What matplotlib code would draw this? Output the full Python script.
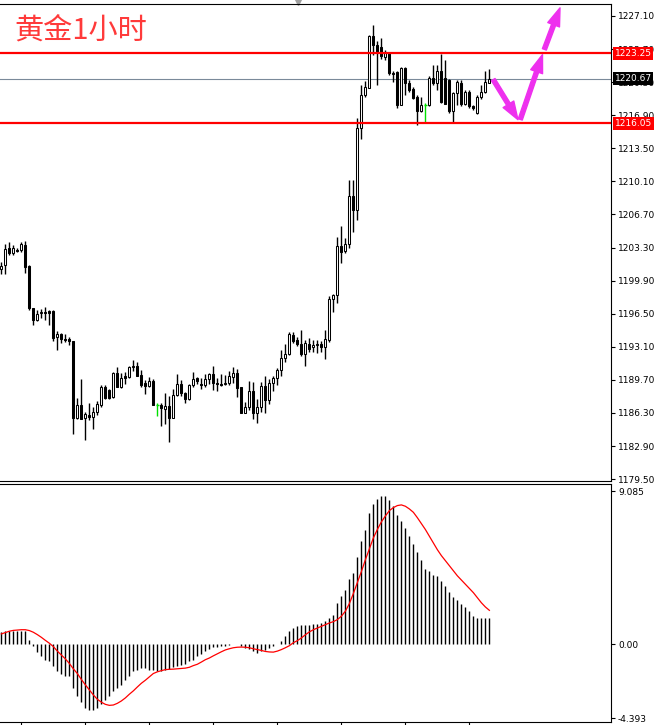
import numpy as np
import matplotlib.pyplot as plt
from matplotlib.transforms import blended_transform_factory
from matplotlib.patches import FancyArrowPatch

# hourly gold candles (open, high, low, close)
opens = [1201.1, 1201.5, 1203.3, 1202.7, 1203.0, 1203.0, 1203.6, 1201.4, 1197.1, 1195.9,
         1196.6, 1196.7, 1196.8, 1196.8, 1194.1, 1194.4, 1193.9, 1193.9, 1193.7, 1185.8,
         1187.1, 1185.8, 1186.1, 1185.9, 1186.4, 1187.1, 1189.0, 1188.7, 1187.9, 1190.4,
         1189.0, 1190.1, 1190.0, 1191.0, 1191.1, 1190.2, 1189.4, 1189.1, 1189.6, 1187.1,
         1187.1, 1186.7, 1187.0, 1185.8, 1188.1, 1189.3, 1188.4, 1187.7, 1189.2, 1189.9,
         1189.3, 1189.2, 1189.8, 1190.3, 1189.4, 1189.3, 1189.3, 1189.4, 1190.0, 1190.4,
         1189.0, 1186.3, 1186.9, 1188.6, 1186.3, 1186.9, 1189.1, 1187.6, 1189.4, 1189.9,
         1190.7, 1191.9, 1192.4, 1194.3, 1193.8, 1193.4, 1192.4, 1193.4, 1193.1, 1193.3,
         1193.4, 1193.1, 1193.8, 1198.0, 1198.4, 1203.5, 1202.9, 1203.7, 1208.6, 1207.2,
         1215.6, 1219.0, 1219.7, 1225.0, 1224.1, 1223.9, 1222.9, 1223.3, 1221.2, 1221.3,
         1217.9, 1221.7, 1220.2, 1219.6, 1218.8, 1217.3, 1218.0, 1217.9, 1220.7, 1220.2,
         1221.4, 1220.7, 1220.5, 1217.3, 1219.2, 1220.2, 1218.1, 1219.3, 1217.8, 1217.1,
         1218.8, 1219.3, 1220.2]
highs = [1201.8, 1203.7, 1203.9, 1203.6, 1203.3, 1203.9, 1204.0, 1201.5, 1197.1, 1196.9,
         1197.0, 1197.2, 1196.9, 1196.9, 1194.7, 1194.5, 1194.4, 1194.1, 1193.7, 1187.8,
         1189.8, 1186.4, 1187.3, 1186.9, 1187.5, 1189.2, 1189.2, 1188.8, 1190.5, 1191.0,
         1190.4, 1190.5, 1191.1, 1191.7, 1191.5, 1190.7, 1189.7, 1190.0, 1189.8, 1187.3,
         1187.3, 1188.3, 1188.0, 1188.8, 1190.3, 1189.7, 1188.5, 1189.3, 1190.5, 1190.0,
         1189.9, 1190.3, 1190.4, 1191.1, 1189.9, 1190.3, 1190.2, 1190.6, 1191.0, 1190.8,
         1189.0, 1187.4, 1189.6, 1189.5, 1187.7, 1189.5, 1190.1, 1189.8, 1190.1, 1190.9,
         1192.8, 1193.4, 1194.6, 1194.6, 1194.1, 1194.8, 1193.8, 1194.0, 1193.8, 1193.8,
         1193.7, 1194.8, 1198.3, 1198.5, 1204.4, 1205.5, 1204.3, 1210.2, 1210.2, 1216.6,
         1220.0, 1220.4, 1225.1, 1226.2, 1224.5, 1224.8, 1223.6, 1223.4, 1221.4, 1221.4,
         1221.9, 1221.9, 1220.5, 1219.8, 1219.0, 1218.8, 1218.2, 1220.9, 1222.1, 1222.1,
         1223.2, 1222.6, 1220.6, 1219.3, 1220.5, 1220.5, 1219.5, 1219.5, 1217.9, 1219.0,
         1220.0, 1221.4, 1221.6]
lows = [1200.6, 1200.6, 1202.5, 1202.5, 1202.8, 1202.8, 1200.7, 1196.9, 1195.3, 1195.8,
        1196.1, 1195.9, 1195.3, 1193.7, 1192.8, 1193.5, 1193.6, 1193.3, 1184.1, 1185.7,
        1185.7, 1183.5, 1185.6, 1184.7, 1186.1, 1186.9, 1187.7, 1187.7, 1187.8, 1189.0,
        1188.9, 1189.3, 1189.9, 1190.6, 1190.1, 1189.0, 1188.2, 1189.0, 1187.1, 1186.0,
        1185.0, 1185.2, 1183.3, 1185.8, 1188.0, 1188.0, 1187.3, 1187.6, 1189.0, 1189.3,
        1188.8, 1189.0, 1189.3, 1188.7, 1188.6, 1189.1, 1189.2, 1189.2, 1189.4, 1187.9,
        1186.3, 1186.3, 1186.6, 1185.7, 1185.3, 1186.4, 1186.3, 1187.2, 1188.6, 1189.2,
        1190.1, 1191.5, 1192.3, 1193.5, 1193.2, 1192.2, 1191.1, 1192.6, 1192.6, 1192.5,
        1192.6, 1191.8, 1193.6, 1196.7, 1197.6, 1201.7, 1202.7, 1203.3, 1204.9, 1206.1,
        1214.5, 1218.8, 1219.7, 1223.1, 1220.0, 1222.7, 1222.6, 1221.0, 1220.3, 1217.6,
        1217.9, 1219.0, 1219.3, 1218.6, 1215.9, 1217.2, 1216.2, 1217.8, 1220.0, 1219.5,
        1218.2, 1218.1, 1217.1, 1216.2, 1217.9, 1217.8, 1217.9, 1217.6, 1217.4, 1217.0,
        1218.6, 1219.2, 1220.2]
closes = [1201.4, 1203.2, 1202.7, 1203.3, 1202.9, 1203.7, 1201.3, 1197.1, 1195.9, 1196.5,
          1196.7, 1196.6, 1196.6, 1194.0, 1194.4, 1193.9, 1193.8, 1193.7, 1185.8, 1187.1,
          1185.7, 1186.2, 1185.9, 1186.4, 1187.2, 1189.0, 1187.8, 1187.8, 1190.4, 1189.0,
          1189.9, 1189.9, 1191.0, 1191.1, 1190.1, 1189.2, 1189.1, 1189.6, 1187.1, 1187.1,
          1186.8, 1187.0, 1185.8, 1188.1, 1189.3, 1188.3, 1187.7, 1189.2, 1189.8, 1189.6,
          1189.2, 1189.8, 1190.3, 1189.4, 1189.3, 1189.2, 1189.4, 1190.1, 1190.4, 1188.9,
          1186.3, 1186.9, 1188.6, 1186.3, 1186.9, 1189.1, 1187.6, 1189.4, 1189.9, 1190.7,
          1191.9, 1192.4, 1194.4, 1193.7, 1193.4, 1192.4, 1193.5, 1192.9, 1193.3, 1193.4,
          1193.1, 1193.9, 1198.0, 1198.4, 1203.5, 1202.8, 1203.7, 1208.6, 1207.2, 1215.6,
          1219.0, 1219.8, 1225.0, 1224.1, 1223.4, 1223.0, 1223.3, 1221.2, 1221.1, 1217.9,
          1221.7, 1220.2, 1219.5, 1218.7, 1217.3, 1218.0, 1218.0, 1220.7, 1220.2, 1221.4,
          1218.3, 1218.1, 1217.3, 1219.2, 1220.3, 1218.1, 1219.3, 1217.8, 1217.6, 1218.8,
          1219.3, 1220.3, 1220.67]

# MACD histogram and signal line
macd_hist = [0.69, 0.75, 0.79, 0.79, 0.79, 0.79, 0.79, 0.26, -0.14, -0.5,
             -0.73, -0.93, -1.03, -1.33, -1.58, -1.78, -1.88, -1.92, -2.61, -3.07,
             -3.47, -3.8, -3.9, -3.9, -3.8, -3.54, -3.35, -3.11, -2.81, -2.61,
             -2.42, -2.12, -1.92, -1.62, -1.52, -1.43, -1.43, -1.52, -1.56, -1.62,
             -1.62, -1.52, -1.49, -1.37, -1.29, -1.23, -1.17, -1.03, -0.93, -0.73,
             -0.57, -0.44, -0.3, -0.2, -0.18, -0.14, -0.1, -0.08, -0.02, 0.02,
             -0.1, -0.24, -0.3, -0.44, -0.53, -0.44, -0.38, -0.24, -0.14, 0.0,
             0.16, 0.46, 0.75, 0.95, 1.09, 1.11, 1.15, 1.15, 1.21, 1.21,
             1.25, 1.35, 1.54, 1.74, 2.44, 2.83, 3.23, 3.86, 4.22, 5.17,
             6.1, 6.79, 7.78, 8.34, 8.61, 8.81, 8.81, 8.53, 8.22, 7.68,
             7.29, 6.89, 6.4, 5.96, 5.45, 5.01, 4.46, 4.32, 4.12, 4.02,
             3.72, 3.47, 3.07, 2.79, 2.59, 2.4, 2.2, 1.98, 1.68, 1.54,
             1.54, 1.54, 1.54]
macd_signal = [0.6, 0.68, 0.76, 0.81, 0.83, 0.85, 0.85, 0.8, 0.7, 0.56,
               0.4, 0.22, 0.05, -0.15, -0.42, -0.65, -0.88, -1.15, -1.47, -1.75,
               -2.1, -2.42, -2.72, -3.02, -3.28, -3.45, -3.58, -3.64, -3.62, -3.52,
               -3.38, -3.2, -2.98, -2.78, -2.55, -2.33, -2.15, -1.95, -1.75, -1.65,
               -1.58, -1.52, -1.5, -1.49, -1.47, -1.45, -1.43, -1.38, -1.28, -1.2,
               -1.07, -0.93, -0.83, -0.7, -0.58, -0.46, -0.35, -0.28, -0.22, -0.19,
               -0.18, -0.19, -0.22, -0.28, -0.33, -0.38, -0.44, -0.47, -0.48, -0.42,
               -0.33, -0.22, -0.1, 0.08, 0.2, 0.36, 0.55, 0.72, 0.85, 0.95,
               1.05, 1.15, 1.25, 1.33, 1.45, 1.65, 1.95, 2.4, 3.0, 3.65,
               4.3, 5.0, 5.65, 6.3, 6.8, 7.25, 7.6, 7.92, 8.1, 8.22,
               8.26, 8.18, 8.02, 7.82, 7.5, 7.15, 6.8, 6.4, 6.0, 5.6,
               5.25, 4.95, 4.65, 4.35, 4.05, 3.8, 3.55, 3.3, 3.05, 2.75,
               2.45, 2.2, 2.0]

price_ticks = [1227.10, 1223.70, 1220.30, 1216.90, 1213.50, 1210.10, 1206.70, 1203.30,
               1199.90, 1196.50, 1193.10, 1189.70, 1186.30, 1182.90, 1179.50]
macd_ticks = [9.085, 0.0, -4.393]
macd_tick_labels = ['9.085', '0.00', '-4.393']
time_ticks = [5, 21, 37, 53, 69, 85, 101, 117]

resistance = 1223.25
support = 1216.05
last_price = 1220.67

# projected path drawn by hand (bar index, price)
path_x = [122.6, 129.5, 135.5, 139.9]
path_y = [1220.8, 1216.2, 1223.4, 1228.2]

fig = plt.figure(figsize=(6.56, 7.25), dpi=100)
ax1 = fig.add_axes([0, 0.3366, 0.9314, 0.6579])
ax2 = fig.add_axes([0, 0.0041, 0.9314, 0.3283])

x = np.arange(len(opens))
o = np.array(opens)
c = np.array(closes)

# candles
for i in x:
    col = '#00e000' if o[i] == c[i] else 'black'
    ax1.vlines(i, lows[i], highs[i], colors=col, linewidth=1, zorder=2)
    fc = 'white' if c[i] >= o[i] else 'black'
    if o[i] == c[i]:
        ax1.hlines(o[i], i - 0.3, i + 0.3, colors=col, linewidth=1, zorder=3)
    else:
        ax1.bar(i, abs(c[i] - o[i]), bottom=min(o[i], c[i]), width=0.55,
                facecolor=fc, edgecolor='black', linewidth=0.75, zorder=3)

ax1.axhline(resistance, color='red', linewidth=1.6, zorder=4)
ax1.axhline(support, color='red', linewidth=1.6, zorder=4)
ax1.axhline(last_price, color='#7a8a9a', linewidth=0.8, zorder=1)

for k in range(len(path_x) - 1):
    arr = FancyArrowPatch((path_x[k], path_y[k]), (path_x[k + 1], path_y[k + 1]),
                          arrowstyle='simple,head_width=0.9,head_length=1.3,tail_width=0.3',
                          mutation_scale=10, color='#ee30ee', zorder=6, clip_on=False)
    ax1.add_patch(arr)

ax1.set_xlim(-0.33, 152.4)
ax1.set_ylim(1179.31, 1228.33)
ax1.yaxis.tick_right()
ax1.set_yticks(price_ticks)
ax1.set_yticklabels(['%.2f' % v for v in price_ticks])
ax1.set_xticks([])
ax1.tick_params(axis='y', length=3, pad=2, labelsize=6.5, width=0.8)
ax1.spines['left'].set_visible(False)

# price labels on the right axis
tr = blended_transform_factory(ax1.transAxes, ax1.transData)
for val, bg in [(resistance, 'red'), (last_price, 'black'), (support, 'red')]:
    ax1.text(1.006, val, '%.2f' % val, transform=tr, color='white', fontsize=6.5,
             va='center', ha='left', zorder=10, clip_on=False,
             bbox=dict(boxstyle='square,pad=0.18', fc=bg, ec='none'))

ax1.text(0.024, 0.975, '黄金1小时', transform=ax1.transAxes, color='#ff3a3a',
         fontsize=21, va='top', ha='left', family=['Noto Sans CJK SC', 'DejaVu Sans'])

# chart shift marker
ax1.plot(0.4877, 1.004, marker='v', color='#a0a0a0', markersize=5,
         transform=ax1.transAxes, clip_on=False)

# MACD panel
ax2.vlines(x, 0, macd_hist, colors='black', linewidth=1)
ax2.plot(x, macd_signal, color='red', linewidth=0.9)
ax2.set_xlim(-0.33, 152.4)
ax2.set_ylim(-4.63, 9.50)
ax2.yaxis.tick_right()
ax2.set_yticks(macd_ticks)
ax2.set_yticklabels(macd_tick_labels)
ax2.set_xticks(time_ticks)
ax2.set_xticklabels([])
ax2.tick_params(axis='y', length=3, pad=2, labelsize=6.5, width=0.8)
ax2.tick_params(axis='x', length=3, width=0.8)
ax2.spines['left'].set_visible(False)

fig.savefig('out.png', dpi=100)
